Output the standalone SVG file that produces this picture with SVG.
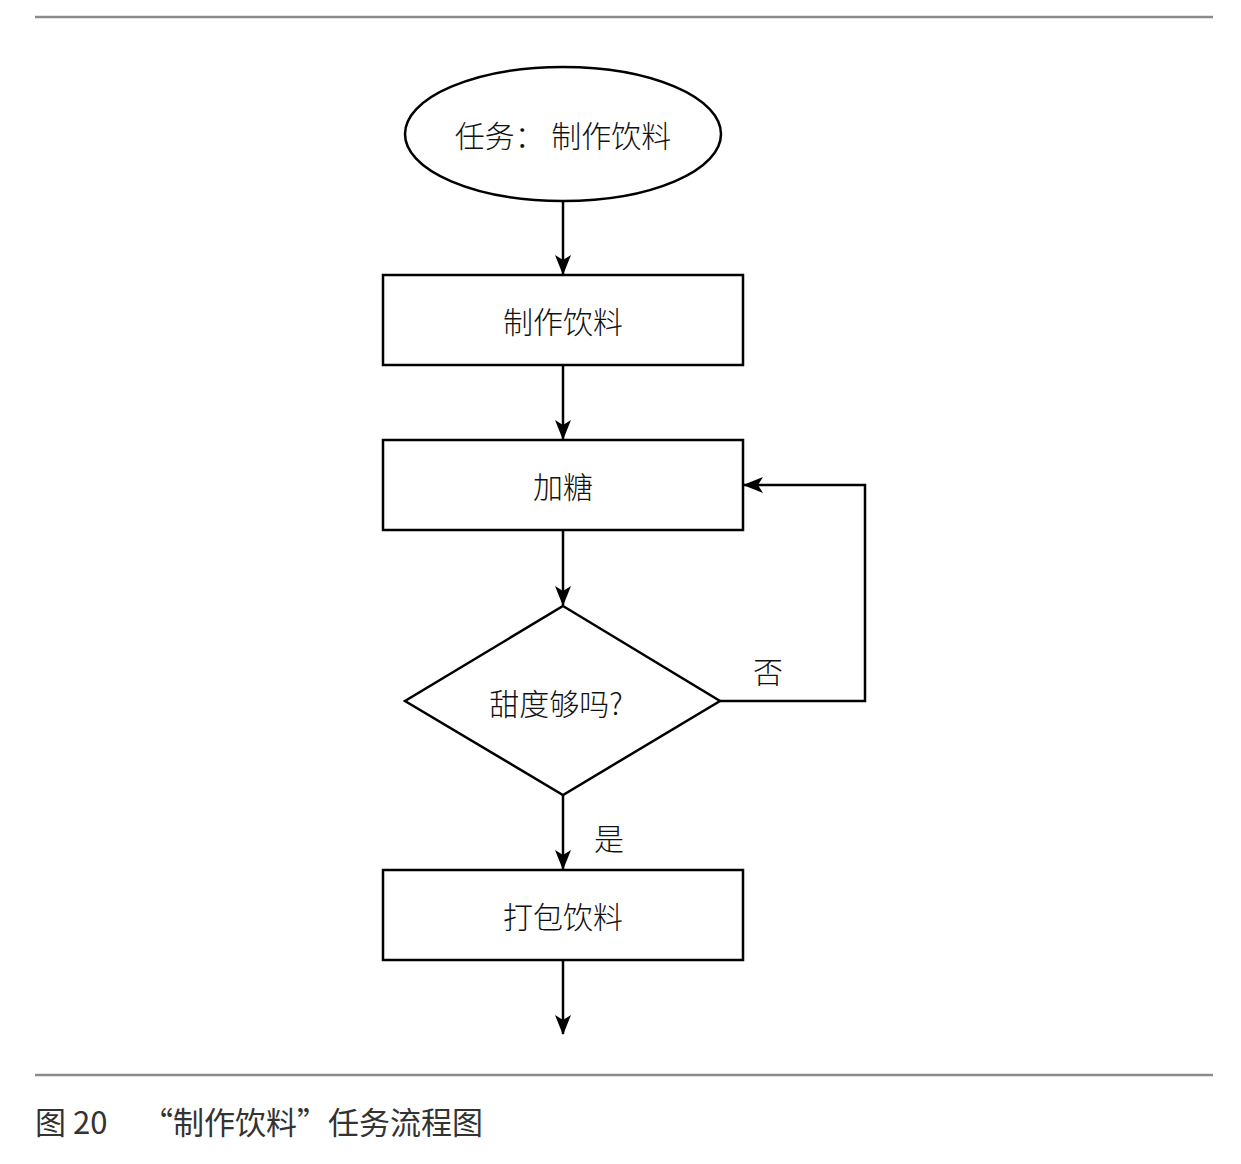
<svg xmlns="http://www.w3.org/2000/svg" width="1241" height="1164" viewBox="0 0 1241 1164">
<style>
.shape{fill:#fff;stroke:#000;stroke-width:2.5}
.edge{fill:none;stroke:#000;stroke-width:2.5}
.t{font-family:"Noto Sans CJK SC","Noto Sans",sans-serif;font-size:30px;font-weight:300;fill:#111;text-anchor:middle;dominant-baseline:central}
.cap{font-family:"Noto Sans CJK SC","Noto Sans",sans-serif;font-size:31px;fill:#333}
.rule{stroke:#8a8a8a;stroke-width:2.5}
</style>
<defs>
<marker id="ah" viewBox="0 0 20 16" refX="19" refY="8" markerWidth="20" markerHeight="16" markerUnits="userSpaceOnUse" orient="auto">
<path d="M0,0 L20,8 L0,16 L5,8 Z" fill="#000"/>
</marker>
</defs>
<line class="rule" x1="35" y1="17" x2="1213" y2="17"/>
<line class="rule" x1="35" y1="1075" x2="1213" y2="1075"/>
<g id="connectors">
<line class="edge" x1="563" y1="201" x2="563" y2="274" marker-end="url(#ah)"/>
<line class="edge" x1="563" y1="365" x2="563" y2="439" marker-end="url(#ah)"/>
<line class="edge" x1="563" y1="530" x2="563" y2="605" marker-end="url(#ah)"/>
<line class="edge" x1="563" y1="795" x2="563" y2="869" marker-end="url(#ah)"/>
<line class="edge" x1="563" y1="960" x2="563" y2="1034" marker-end="url(#ah)"/>
<polyline class="edge" points="720,701 865,701 865,485 744,485" marker-end="url(#ah)"/>
<text class="t" x="768" y="670">否</text>
<text class="t" x="609" y="837">是</text>
</g>
<g id="start">
<ellipse class="shape" cx="563" cy="134" rx="158" ry="67"/>
<text class="t" x="563" y="134">任务： 制作饮料</text>
</g>
<g id="make">
<rect class="shape" x="383" y="275" width="360" height="90"/>
<text class="t" x="563" y="320">制作饮料</text>
</g>
<g id="sugar">
<rect class="shape" x="383" y="440" width="360" height="90"/>
<text class="t" x="563" y="485">加糖</text>
</g>
<g id="check">
<polygon class="shape" points="563,606 720,701 563,795 405,701"/>
<text class="t" x="556" y="702">甜度够吗?</text>
</g>
<g id="pack">
<rect class="shape" x="383" y="870" width="360" height="90"/>
<text class="t" x="563" y="915">打包饮料</text>
</g>
<text class="cap" x="35" y="1134">图 20</text>
<text class="cap" x="142" y="1134">“制作饮料”任务流程图</text>
</svg>
